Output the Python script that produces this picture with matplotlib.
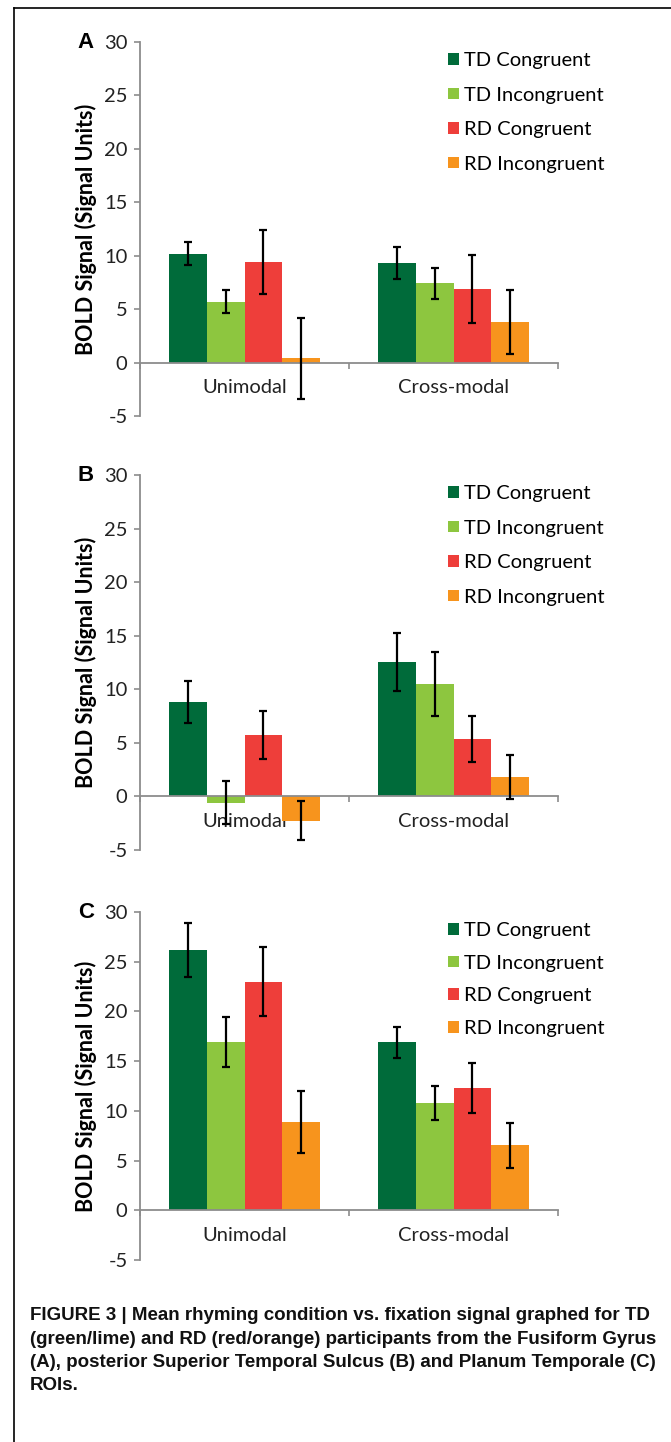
import numpy as np
import matplotlib
matplotlib.use("Agg")
import matplotlib.pyplot as plt
from matplotlib.lines import Line2D
from matplotlib.patches import Patch

groups = ["Unimodal", "Cross-modal"]
series = ["TD Congruent", "TD Incongruent", "RD Congruent", "RD Incongruent"]
bar_colors = ["#006B3A", "#8DC63F", "#EE3E3A", "#F7941D"]

# rows = series, cols = groups (Unimodal, Cross-modal)
mean_a = [[10.2, 9.3], [5.7, 7.4], [9.4, 6.9], [0.4, 3.8]]
err_a = [[1.1, 1.5], [1.1, 1.45], [3.0, 3.2], [3.8, 3.0]]
mean_b = [[8.8, 12.55], [-0.6, 10.5], [5.75, 5.4], [-2.25, 1.8]]
err_b = [[1.95, 2.75], [2.0, 2.95], [2.25, 2.15], [1.85, 2.05]]
mean_c = [[26.2, 16.9], [16.95, 10.8], [23.0, 12.3], [8.85, 6.55]]
err_c = [[2.7, 1.55], [2.5, 1.75], [3.5, 2.55], [3.1, 2.25]]

panel_letters = ["A", "B", "C"]
yticks = [-5, 0, 5, 10, 15, 20, 25, 30]
ylabel = "BOLD Signal (Signal Units)"
caption_lines = [
    "FIGURE 3 | Mean rhyming condition vs. fixation signal graphed for TD",
    "(green/lime) and RD (red/orange) participants from the Fusiform Gyrus",
    "(A), posterior Superior Temporal Sulcus (B) and Planum Temporale (C)",
    "ROIs.",
]

W, H = 671, 1442
fig = plt.figure(figsize=(W / 100, H / 100), dpi=100)

# frame of the figure box (top + left edges)
fig.add_artist(Line2D([14 / W, 1], [1 - 8 / H, 1 - 8 / H], color="black", lw=1.2))
fig.add_artist(Line2D([14 / W, 14 / W], [0, 1 - 8 / H], color="black", lw=1.2))

# axes rectangles in pixels: (top of 30, bottom of -5)
panel_px = [(42, 416), (475, 850), (912, 1260)]
legend_spacing = [0.87, 0.87, 0.78]
ax_left, ax_right = 140, 558

axis_grey = "#8C8C8C"
font = "Lato"
fs = 14.5
bar_w = 0.18

for k, (means, errs) in enumerate([(mean_a, err_a), (mean_b, err_b), (mean_c, err_c)]):
    top, bot = panel_px[k]
    ax = fig.add_axes([ax_left / W, 1 - bot / H, (ax_right - ax_left) / W, (bot - top) / H])
    x = np.arange(len(groups))
    for s in range(len(series)):
        xs = x + (s - 1.5) * bar_w
        ax.bar(xs, means[s], width=bar_w, color=bar_colors[s], label=series[s], zorder=2)
        ax.errorbar(xs, means[s], yerr=errs[s], fmt="none", ecolor="black",
                    elinewidth=1.6, capsize=2.8, capthick=1.6, zorder=4)

    ax.set_xlim(-0.5, 1.5)
    ax.set_ylim(-5, 30)
    ax.spines["top"].set_visible(False)
    ax.spines["right"].set_visible(False)
    ax.spines["left"].set_color(axis_grey)
    ax.spines["bottom"].set_color(axis_grey)
    ax.spines["left"].set_linewidth(1.3)
    ax.spines["bottom"].set_linewidth(1.3)
    ax.spines["bottom"].set_position(("data", 0))
    ax.spines["bottom"].set_zorder(3)

    ax.set_yticks(yticks)
    ax.set_yticklabels([str(t) for t in yticks], fontsize=fs, family=font, color="#222222")
    ax.tick_params(axis="y", direction="out", length=4, width=1.2, color=axis_grey, pad=5)

    ax.set_xticks([-0.5, 0.5, 1.5])
    ax.set_xticklabels(["", "", ""])
    ax.tick_params(axis="x", which="major", direction="out", length=4, width=1.2, color=axis_grey)
    ax.set_xticks(x, minor=True)
    ax.set_xticklabels(groups, minor=True, fontsize=fs, family=font, color="#222222")
    ax.tick_params(axis="x", which="minor", length=0, pad=12)

    ax.set_ylabel(ylabel, fontsize=15.5, family=font, fontweight="bold", labelpad=5)

    handles = [Patch(facecolor=c, edgecolor="none") for c in bar_colors]
    ax.legend(handles, series, loc="upper left",
              bbox_to_anchor=(0.737, 1 - 10 / (bot - top)),
              frameon=False, borderpad=0, borderaxespad=0, handlelength=0.52,
              handleheight=0.52, handletextpad=0.25, labelspacing=legend_spacing[k],
              prop={"family": font, "size": fs})

    fig.text(86 / W, 1 - top / H, panel_letters[k], fontsize=16, fontweight="bold",
             family="Liberation Sans", ha="center", va="center")

cap_y = [1316, 1339, 1362.5, 1386]
for line, yy in zip(caption_lines, cap_y):
    fig.text(30 / W, 1 - yy / H, line, fontsize=13.5, fontweight="bold",
             family="Liberation Sans", ha="left", va="center", color="#111111")

fig.savefig("out.png", dpi=100)
